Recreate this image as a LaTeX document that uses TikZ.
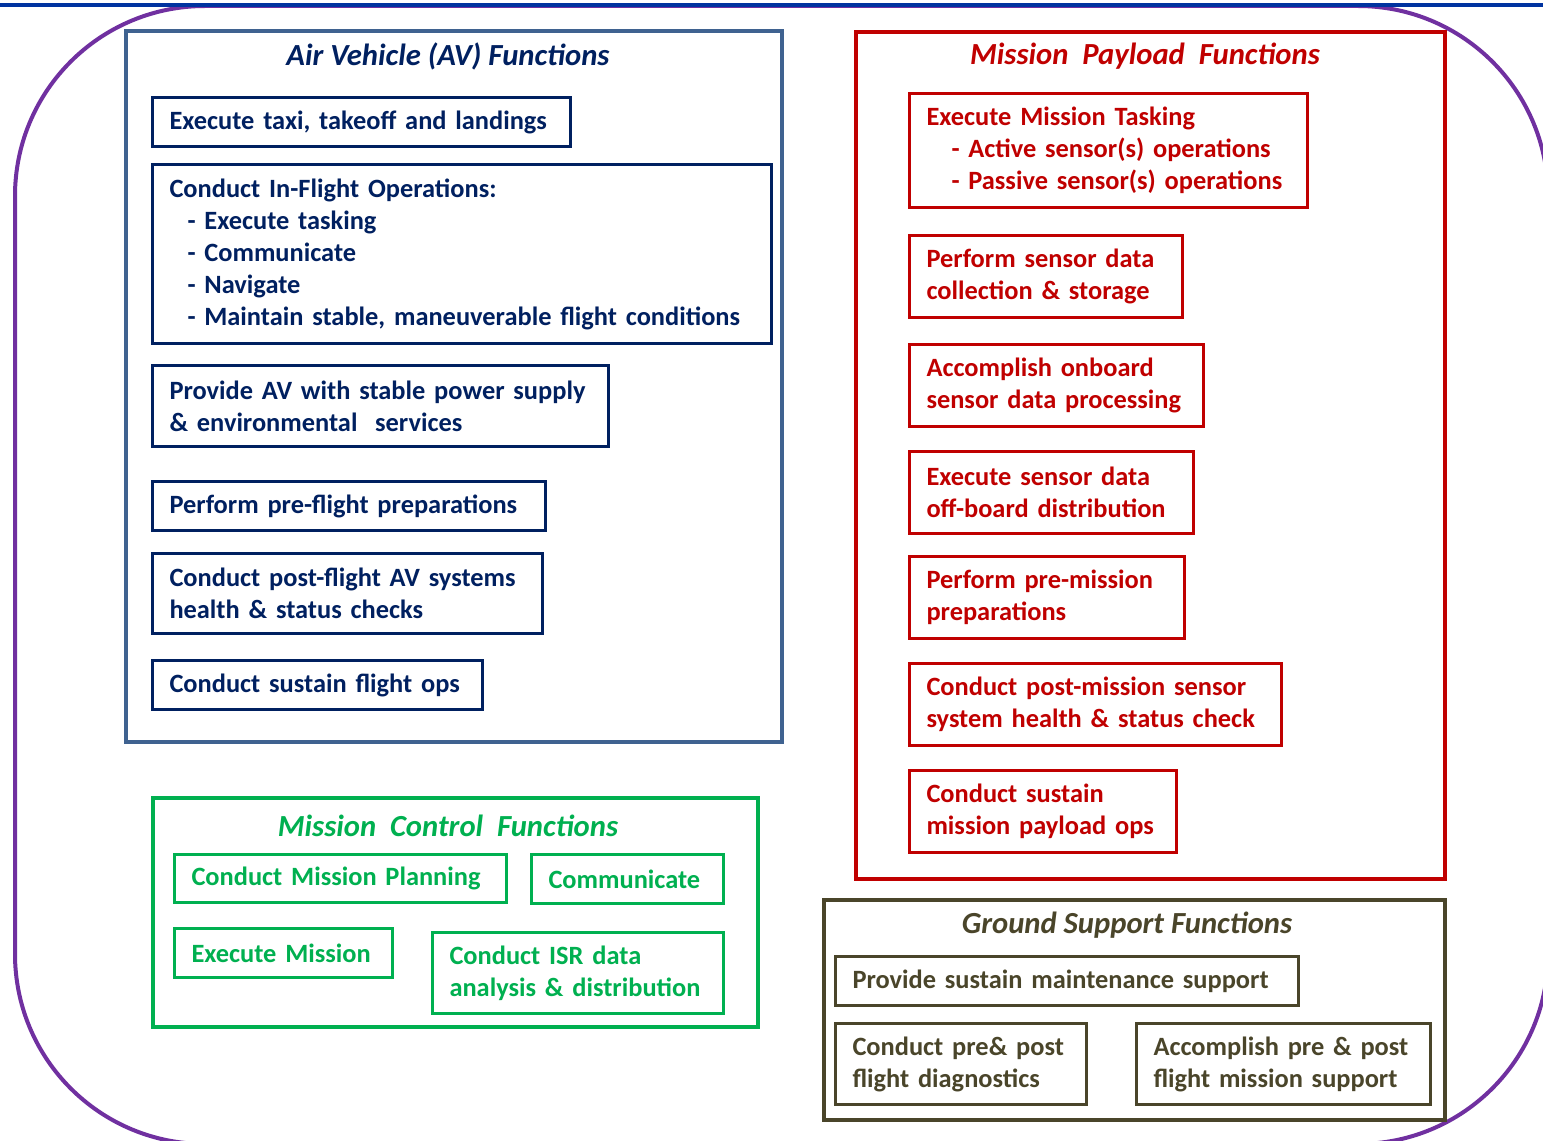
\documentclass[tikz,border=0pt]{standalone}
\usepackage{fontspec}
\setmainfont{Carlito}
\definecolor{navy}{HTML}{002060}
\definecolor{avframe}{HTML}{3F6290}
\definecolor{mpred}{HTML}{C00000}
\definecolor{mcgreen}{HTML}{00B050}
\definecolor{gsolive}{HTML}{4A452A}
\definecolor{outerpurple}{HTML}{7030A0}
\definecolor{topblue}{HTML}{0033A0}
\newcommand{\myl}[1]{\mbox{#1}}
\tikzset{
  fbox/.style={draw, rectangle, anchor=north west, align=left, inner xsep=12.75pt, inner ysep=0pt,
    line width=2.25pt, font=\fontsize{19.8}{24}\selectfont\bfseries},
  frame/.style={draw, rectangle, anchor=north west, line width=3pt, inner sep=0pt},
  ftitle/.style={font=\fontsize{23}{26}\selectfont\bfseries\itshape, inner sep=0pt},
  avb/.style={fbox, draw=navy, text=navy},
  mpb/.style={fbox, draw=mpred, text=mpred},
  mcb/.style={fbox, draw=mcgreen, text=mcgreen},
  gsb/.style={fbox, draw=gsolive, text=gsolive},
}
\begin{document}
\begin{tikzpicture}[x=0.75pt, y=-0.75pt]
\useasboundingbox (0,0) rectangle (1543,1141);
\clip (0,0) rectangle (1543,1141);
\fill[white] (0,0) rectangle (1543,1141);
% outer purple rounded frame
\draw[outerpurple, line width=3pt, rounded corners=142.5pt] (15,6) rectangle (1548,1144);
\draw[topblue, line width=3.2pt] (0,5) -- (1543,5);

% Air Vehicle
\node[frame, draw=avframe, minimum width=492pt, minimum height=533pt] (av) at (124,29) {};
\node[ftitle, text=navy] (avt) at (448,56) {Air Vehicle (AV) Functions};
\node[avb, text width=288pt, minimum height=36.75pt] (a1) at (151,96) {\myl{Execute taxi, takeoff and landings}};
\node[avb, text width=438.75pt, minimum height=134.25pt] (a2) at (151,163) {\myl{Conduct In-Flight Operations:}\\
  \myl{\hspace*{13.5pt}- Execute tasking}\\
  \myl{\hspace*{13.5pt}- Communicate}\\
  \myl{\hspace*{13.5pt}- Navigate}\\
  \myl{\hspace*{13.5pt}- Maintain stable, maneuverable flight conditions}};
\node[avb, text width=316.5pt, minimum height=60.75pt] (a3) at (151,364) {\myl{Provide AV with stable power supply}\\\myl{\& environmental\ \ services}};
\node[avb, text width=269.25pt, minimum height=36.75pt] (a4) at (151,480) {\myl{Perform pre-flight preparations}};
\node[avb, text width=267pt, minimum height=60pt] (a5) at (151,552) {\myl{Conduct post-flight AV systems}\\\myl{health \& status checks}};
\node[avb, text width=222pt, minimum height=36.75pt] (a6) at (151,659) {\myl{Conduct sustain flight ops}};

% Mission Payload
\node[frame, draw=mpred, minimum width=441.75pt, minimum height=635.25pt] (mp) at (854,30) {};
\node[ftitle, text=mpred] (mpt) at (1145,56) {Mission\ \ Payload\ \ Functions};
\node[mpb, text width=273pt, minimum height=85.5pt] (r1) at (908,92) {\myl{Execute Mission Tasking}\\
  \myl{\hspace*{18.75pt}- Active sensor(s) operations}\\
  \myl{\hspace*{18.75pt}- Passive sensor(s) operations}};
\node[mpb, text width=179.25pt, minimum height=61.5pt] (r2) at (908,234) {\myl{Perform sensor data}\\\myl{collection \& storage}};
\node[mpb, text width=195pt, minimum height=61.5pt] (r3) at (908,343) {\myl{Accomplish onboard}\\\myl{sensor data processing}};
\node[mpb, text width=187.5pt, minimum height=61.5pt] (r4) at (908,450) {\myl{Execute sensor data}\\\myl{off-board distribution}};
\node[mpb, text width=180.75pt, minimum height=61.5pt] (r5) at (908,555) {\myl{Perform pre-mission}\\\myl{preparations}};
\node[mpb, text width=253.5pt, minimum height=61.5pt] (r6) at (908,662) {\myl{Conduct post-mission sensor}\\\myl{system health \& status check}};
\node[mpb, text width=174.75pt, minimum height=61.5pt] (r7) at (908,769) {\myl{Conduct sustain}\\\myl{mission payload ops}};

% Mission Control
\node[frame, draw=mcgreen, minimum width=453.75pt, minimum height=171.75pt] (mc) at (151,796) {};
\node[ftitle, text=mcgreen] (mct) at (448,826) {Mission\ \ Control\ \ Functions};
\node[mcb, text width=223.5pt, minimum height=36pt] (g1) at (173,853) {\myl{Conduct Mission Planning}};
\node[mcb, text width=118.5pt, minimum height=36.75pt] (g2) at (530,853) {\myl{Communicate}};
\node[mcb, text width=138pt, minimum height=36.75pt] (g3) at (173,927) {\myl{Execute Mission}};
\node[mcb, text width=192.75pt, minimum height=60.75pt] (g4) at (431,931) {\myl{Conduct ISR data}\\\myl{analysis \& distribution}};

% Ground Support
\node[frame, draw=gsolive, minimum width=465.75pt, minimum height=165pt] (gs) at (822,898) {};
\node[ftitle, text=gsolive] (gst) at (1127,925) {Ground Support Functions};
\node[gsb, text width=321.75pt, minimum height=36.75pt] (o1) at (834,955) {\myl{Provide sustain maintenance support}};
\node[gsb, text width=162.75pt, minimum height=60.75pt] (o2) at (834,1022) {\myl{Conduct pre\& post}\\\myl{flight diagnostics}};
\node[gsb, text width=195pt, minimum height=60.75pt] (o3) at (1135,1022) {\myl{Accomplish pre \& post}\\\myl{flight mission support}};
\end{tikzpicture}
\end{document}
